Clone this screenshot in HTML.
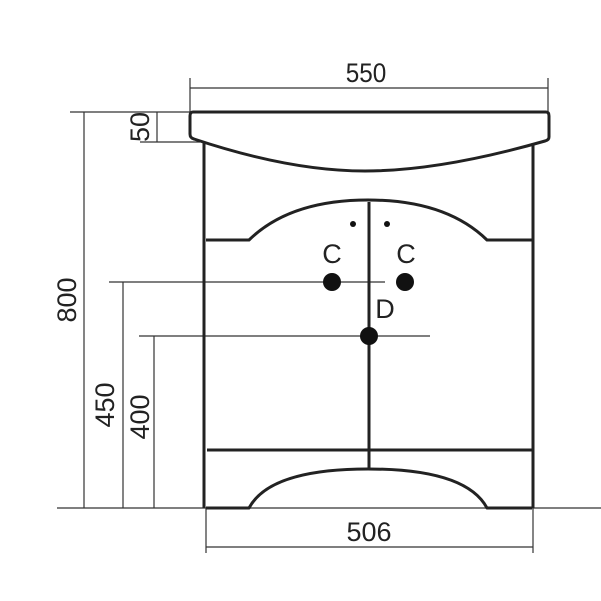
<!DOCTYPE html>
<html><head><style>body{margin:0;background:#fff}svg{display:block}</style></head><body>
<svg width="601" height="601" viewBox="0 0 601 601" xmlns="http://www.w3.org/2000/svg">
<g stroke="#333" stroke-width="1.2" fill="none">
<line x1="190" y1="88" x2="548" y2="88"/><line x1="190" y1="78" x2="190" y2="112"/><line x1="548" y1="78" x2="548" y2="112"/>
<line x1="70" y1="112" x2="190" y2="112"/><line x1="84" y1="112" x2="84" y2="508"/>
<line x1="140" y1="142" x2="200" y2="142"/><line x1="157" y1="112" x2="157" y2="142"/>
<line x1="109" y1="282" x2="385" y2="282"/><line x1="123" y1="282" x2="123" y2="508"/>
<line x1="139" y1="336" x2="430" y2="336"/><line x1="154" y1="336" x2="154" y2="508"/>
<line x1="57" y1="508" x2="601" y2="508"/>
<line x1="206" y1="547" x2="533" y2="547"/><line x1="206" y1="508" x2="206" y2="553"/><line x1="533" y1="508" x2="533" y2="553"/>
</g>
<g stroke="#222" stroke-width="3" fill="none" stroke-linejoin="round">
<path d="M193,112 L546,112 Q549,112 549,116 L549,137 Q549,140 545,141 Q440,171 365,171 Q290,171 194,139 Q190,138 190,134 L190,116 Q190,112 193,112 Z"/>
<line x1="204" y1="143" x2="204" y2="508"/><line x1="533" y1="143" x2="533" y2="508"/>
<path d="M206,240 L249,240 Q290,200 368,200 Q446,200 487,240 L532,240"/>
<line x1="369" y1="202" x2="369" y2="468"/>
<line x1="207" y1="450" x2="532" y2="450"/>
<path d="M206,508 L249,508 Q270,469 368,469 Q466,469 487,508 L532,508"/>
</g>
<g fill="#111">
<circle cx="353" cy="224" r="3"/><circle cx="387" cy="224" r="3"/>
<circle cx="332" cy="282" r="9"/><circle cx="405" cy="282" r="9"/><circle cx="369" cy="336" r="9"/>
</g>
<g font-family="Liberation Sans, sans-serif" font-size="27" fill="#222" text-anchor="middle">
<text x="366" y="82" transform="scale(0.9 1) translate(40.7 0)">550</text>
<text x="369" y="541">506</text>
<text x="332" y="263">C</text><text x="406" y="263">C</text><text x="385" y="318">D</text>
<text transform="translate(76,300) rotate(-90)">800</text>
<text transform="translate(114,405) rotate(-90)">450</text>
<text transform="translate(149,417) rotate(-90)">400</text>
<text transform="translate(149,127) rotate(-90)">50</text>
</g>
</svg>
</body></html>
